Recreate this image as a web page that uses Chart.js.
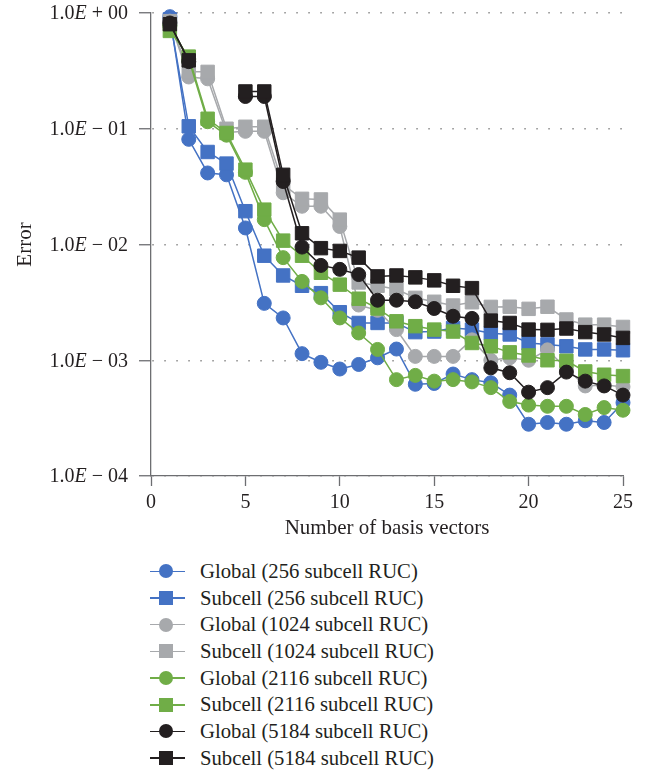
<!DOCTYPE html>
<html>
<head>
<meta charset="utf-8">
<title>Error vs number of basis vectors</title>
<script src="https://cdn.jsdelivr.net/npm/chart.js@4.4.0/dist/chart.umd.min.js"></script>
<style>
  html, body { margin: 0; padding: 0; background: #ffffff; }
  #wrap { position: relative; width: 647px; height: 771px; overflow: hidden; }
  #plot { position: absolute; left: 0; top: 0; }
  #legend {
    position: absolute; left: 150px; top: 558px;
    font-family: 'Liberation Serif', 'Times New Roman', serif;
    font-size: 20.7px; color: #231F20;
  }
  .item { height: 26.7px; display: flex; align-items: center; white-space: nowrap; }
  .sym { position: relative; width: 35px; height: 26px; margin-right: 15px; flex: none; }
  .sym .ln { position: absolute; left: 0; right: 0; top: 12.25px; height: 1.5px; }
  .sym .mk { position: absolute; left: 9px; top: 6px; width: 14px; height: 14px; }
  .sym .mk.circle { border-radius: 50%; }
</style>
</head>
<body>
<div id="wrap">
  <canvas id="plot" width="647" height="545"></canvas>
  <div id="legend"></div>
</div>
<script>
// Number of basis vectors (x values)
const basisCounts = [1, 2, 3, 4, 5, 6, 7, 8, 9, 10, 11, 12, 13, 14, 15, 16, 17, 18, 19, 20, 21, 22, 23, 24, 25];

// Error tick values on the logarithmic axis
const errorTicks = [1e-4, 1e-3, 1e-2, 1e-1, 1];

// Series labels, in legend order
const seriesNames = [
  'Global (256 subcell RUC)',
  'Subcell (256 subcell RUC)',
  'Global (1024 subcell RUC)',
  'Subcell (1024 subcell RUC)',
  'Global (2116 subcell RUC)',
  'Subcell (2116 subcell RUC)',
  'Global (5184 subcell RUC)',
  'Subcell (5184 subcell RUC)'
];

// Error values per series (null = no result for that basis size)
const global256 = [0.93, 0.081, 0.0415, 0.040, 0.0139, 0.0031, 0.00232, 0.00114, 0.00096, 0.00084, 0.00092, 0.00105, 0.00125,
                   0.00062, 0.00063, 0.00076, 0.00068, 0.00064, 0.00050, 0.00028, 0.00029, 0.00028, 0.00030, 0.00029, 0.00043];
const subcell256 = [0.88, 0.105, 0.063, 0.050, 0.0194, 0.0080, 0.0054, 0.0044, 0.0038, 0.0026, 0.0021, 0.0021, 0.0021,
                    0.00175, 0.00177, 0.0019, 0.00184, 0.00171, 0.00167, 0.00141, 0.00137, 0.00132, 0.00124, 0.00124, 0.00122];
const global1024 = [0.85, 0.28, 0.27, 0.093, 0.095, 0.095, 0.028, 0.0214, 0.0214, 0.0143, 0.0030, 0.0027, 0.00184,
                    0.00108, 0.00108, 0.00108, 0.0015, 0.0010, 0.00105, 0.0010, 0.00123, 0.00085, 0.00060, 0.00061, 0.00059];
const subcell1024 = [0.85, 0.31, 0.31, 0.10, 0.104, 0.104, 0.033, 0.0248, 0.0245, 0.0164, 0.0047, 0.0044, 0.0041,
                     0.00346, 0.0032, 0.00297, 0.00317, 0.00289, 0.0029, 0.00278, 0.0029, 0.00225, 0.00203, 0.00203, 0.00194];
const global2116 = [0.78, 0.40, 0.115, 0.088, 0.042, 0.0164, 0.0077, 0.0048, 0.00346, 0.00232, 0.00172, 0.00124, 0.00068,
                    0.00074, 0.00066, 0.00068, 0.00065, 0.00058, 0.00044, 0.00041, 0.00040, 0.00040, 0.00034, 0.00039, 0.00037];
const subcell2116 = [0.70, 0.42, 0.122, 0.092, 0.0443, 0.020, 0.0108, 0.0080, 0.0057, 0.0045, 0.0034, 0.0028, 0.00217,
                     0.00197, 0.00184, 0.00177, 0.00141, 0.00132, 0.00117, 0.00110, 0.00100, 0.00099, 0.00080, 0.00075, 0.00073];
const global5184 = [0.82, 0.38, null, null, 0.19, 0.19, 0.035, 0.0095, 0.0066, 0.0061, 0.0055, 0.0033, 0.0033,
                    0.0032, 0.0028, 0.0024, 0.0023, 0.00086, 0.00078, 0.00053, 0.00058, 0.00079, 0.00066, 0.00060, 0.00050];
const subcell5184 = [0.80, 0.39, null, null, 0.21, 0.21, 0.040, 0.0125, 0.0093, 0.0088, 0.0077, 0.0053, 0.0054,
                     0.0052, 0.0049, 0.0044, 0.0042, 0.0022, 0.0021, 0.00184, 0.00183, 0.00188, 0.00175, 0.00167, 0.00156];

const seriesValues = [global256, subcell256, global1024, subcell1024, global2116, subcell2116, global5184, subcell5184];

// Styling
const BLUE = '#4472C4', GRAY = '#A7A9AC', GREEN = '#70AD47', BLACK = '#231F20';
const seriesColors = [BLUE, BLUE, GRAY, GRAY, GREEN, GREEN, BLACK, BLACK];
const seriesShapes = ['circle', 'rect', 'circle', 'rect', 'circle', 'rect', 'circle', 'rect'];
const INK = '#231F20';
const AXIS = '#6d6e71';
const SERIF = "'Liberation Serif', 'Times New Roman', serif";

const datasets = seriesValues.map((vals, i) => ({
  label: seriesNames[i],
  data: basisCounts.map((n, k) => ({ x: n, y: vals[k] })),
  borderColor: seriesColors[i],
  backgroundColor: seriesColors[i],
  borderWidth: 1.5,
  pointStyle: seriesShapes[i],
  pointRadius: seriesShapes[i] === 'rect' ? 9.5 : 7,
  pointBorderWidth: 1,
  pointBorderColor: seriesColors[i],
  pointBackgroundColor: seriesColors[i],
  spanGaps: false,
  tension: 0,
  clip: false,
  // later series in the legend sit on top
  order: seriesValues.length - i
}));

// Scientific tick labels with an italic "E"
const sciTickLabels = {
  id: 'sciTickLabels',
  afterDraw(chart) {
    const s = chart.scales.y;
    const c = chart.ctx;
    const right = 128;
    c.save();
    c.fillStyle = INK;
    c.textBaseline = 'middle';
    s.ticks.forEach(t => {
      const exp = Math.round(Math.log10(t.value));
      const parts = [
        { txt: '1.0', font: '20px ' + SERIF },
        { txt: 'E', font: 'italic 20px ' + SERIF },
        { txt: (exp < 0 ? ' \u2212 ' : ' + ') + String(Math.abs(exp)).padStart(2, '0'), font: '20px ' + SERIF }
      ];
      let w = 0;
      parts.forEach(p => { c.font = p.font; p.w = c.measureText(p.txt).width; w += p.w; });
      let x = right - w;
      const y = s.getPixelForValue(t.value) + 1;
      parts.forEach(p => { c.font = p.font; c.fillText(p.txt, x, y); x += p.w; });
    });
    c.restore();
  }
};

const chart = new Chart(document.getElementById('plot'), {
  type: 'line',
  data: { datasets },
  options: {
    responsive: false,
    animation: false,
    devicePixelRatio: 1,
    layout: { padding: { top: 13, right: 24, bottom: 0, left: 0 } },
    plugins: { legend: { display: false }, tooltip: { enabled: false } },
    scales: {
      x: {
        type: 'linear',
        min: 0, max: 25,
        ticks: { stepSize: 5, color: INK, font: { family: SERIF, size: 20 }, padding: 5 },
        grid: { drawOnChartArea: false, drawTicks: true, tickLength: 10, tickColor: AXIS, tickWidth: 1.3 },
        border: { color: AXIS, width: 1.3 },
        title: { display: true, text: 'Number of basis vectors', color: INK,
                 font: { family: SERIF, size: 21 }, padding: { top: 0, bottom: 4 } },
        afterFit: s => { s.height = 69; }
      },
      y: {
        type: 'logarithmic',
        min: 1e-4, max: 1,
        afterBuildTicks: s => { s.ticks = errorTicks.map(v => ({ value: v })); },
        ticks: { display: false },
        grid: { color: '#8c8c8c', lineWidth: 1.5, drawTicks: true, tickLength: 12,
                tickColor: AXIS, tickWidth: 1.3, tickBorderDash: [] },
        border: { color: AXIS, width: 1.3, dash: [1.5, 10.5], dashOffset: 11 },
        title: { display: true, text: 'Error', color: INK,
                 font: { family: SERIF, size: 21 }, padding: { top: 13, bottom: 0 } },
        afterFit: s => { s.width = 151; }
      }
    }
  },
  plugins: [sciTickLabels]
});

// Legend below the plot, one entry per row
const legend = document.getElementById('legend');
seriesNames.forEach((name, i) => {
  const row = document.createElement('div');
  row.className = 'item';
  const sym = document.createElement('div');
  sym.className = 'sym';
  const ln = document.createElement('div');
  ln.className = 'ln';
  ln.style.background = seriesColors[i];
  const mk = document.createElement('div');
  mk.className = 'mk ' + seriesShapes[i];
  mk.style.background = seriesColors[i];
  sym.appendChild(ln);
  sym.appendChild(mk);
  const txt = document.createElement('span');
  txt.textContent = name;
  row.appendChild(sym);
  row.appendChild(txt);
  legend.appendChild(row);
});
</script>
</body>
</html>
